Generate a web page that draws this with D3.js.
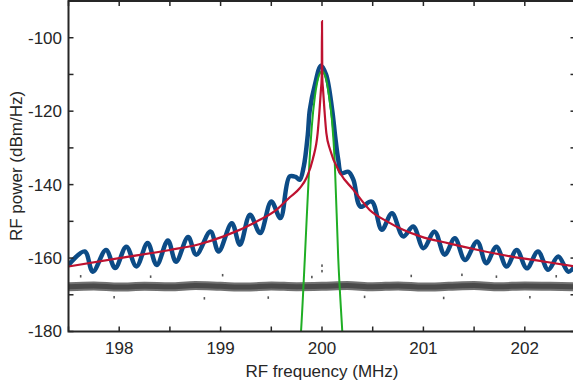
<!DOCTYPE html>
<html><head><meta charset="utf-8">
<script src="https://cdn.jsdelivr.net/npm/d3@7"></script>
<style>
body{margin:0;background:#fff;}
text{font-family:"Liberation Sans",Arial,Helvetica,sans-serif;fill:#262626;}
</style></head>
<body><svg id="c" width="573" height="386"></svg>
<script>
// ---- data ----
const xTicks = [197.5,198,198.5,199,199.5,200,200.5,201,201.5,202,202.5];
const xTickLabels = [198,199,200,201,202];
const yTicks = [-180,-170,-160,-150,-140,-130,-120,-110,-100,-90];
const yTickLabels = [-180,-160,-140,-120,-100];

const blueFreq  = [197.50,197.66,197.74,197.87,197.96,198.07,198.17,198.28,198.37,198.48,198.56,198.68,198.76,198.90,198.98,199.11,199.19,199.29,199.39,199.50,199.59,199.68,199.74,199.78,199.82,199.86,199.88,199.93,199.99,200.04,200.10,200.13,200.16,200.19,200.26,200.31,200.38,200.49,200.59,200.69,200.80,200.90,201.00,201.11,201.21,201.31,201.41,201.53,201.62,201.72,201.82,201.92,202.02,202.13,202.23,202.33,202.43,202.50];
const bluePower = [-161.9,-158.2,-163.7,-157.8,-162.7,-156.9,-162.3,-155.9,-161.9,-155.2,-161.0,-154.3,-159.1,-152.8,-158.2,-150.5,-156.4,-148.2,-153.2,-144.6,-149.1,-137.8,-137.9,-138.7,-135.1,-126.4,-119.6,-112.8,-107.6,-110.0,-119.6,-126.9,-133.2,-136.9,-136.5,-138.7,-146.0,-144.6,-152.3,-147.8,-154.1,-151.4,-157.3,-152.8,-159.1,-154.6,-160.5,-155.5,-161.4,-156.9,-162.3,-157.8,-162.8,-158.2,-163.2,-159.6,-163.7,-161.9];

const redFreq  = [197.5,198.0,198.5,198.78,199.03,199.36,199.55,199.68,199.78,199.85,199.91,199.957,199.975,199.99,199.997,200.0,200.003,200.01,200.025,200.043,200.08,200.18,200.31,200.47,200.64,200.80,200.97,201.25,201.54,201.87,202.2,202.5];
const redPower = [-162.3,-160.0,-157.8,-156.3,-154.1,-150.0,-146.9,-143.5,-141.0,-138.0,-133.0,-126.0,-120.0,-114.0,-111.0,-95.5,-111.0,-114.0,-120.0,-126.0,-130.5,-136.9,-141.4,-146.9,-150.0,-152.3,-154.1,-156.0,-157.8,-159.6,-161.0,-162.3];

const greenFreq  = [199.78,199.793,199.83,199.876,199.90,199.93,199.95,199.97,200.0,200.03,200.05,200.07,200.10,200.126,200.16,200.20,200.21];
const greenPower = [-185,-180,-160.5,-134,-124,-116,-112.5,-110.3,-109.1,-110.3,-112.5,-116,-123,-134,-160,-180,-185];

const grayFreq  = [197.5,197.75,198.0,198.25,198.5,198.75,199.0,199.25,199.5,199.75,200.0,200.25,200.5,200.75,201.0,201.25,201.5,201.75,202.0,202.25,202.5];
const grayPower = [-167.8,-167.6,-167.9,-167.7,-167.8,-167.5,-167.7,-167.9,-167.6,-167.8,-167.7,-167.5,-167.8,-167.6,-167.9,-167.7,-167.5,-167.8,-167.6,-167.7,-167.8];
const grayOutFreq  = [197.62,197.95,198.31,198.84,199.02,199.47,199.9,200.0,200.0,200.42,200.88,201.2,201.38,201.72,202.05,202.31];
const grayOutPower = [-164.9,-170.6,-165.0,-170.9,-164.6,-170.7,-165.1,-162.0,-163.5,-170.5,-164.8,-170.8,-164.5,-165.0,-170.6,-164.9];

// ---- drawing ----
const svg = d3.select("#c");
const x = d3.scaleLinear().domain([197.5,202.5]).range([68.5,575.5]);
const y = d3.scaleLinear().domain([-180,-90]).range([331.5,1]);

svg.append("defs").append("clipPath").attr("id","clip")
  .append("rect").attr("x",68.5).attr("y",1).attr("width",507).attr("height",330.5);

const g = svg.append("g").attr("clip-path","url(#clip)");
const zip = (a,b)=>a.map((v,i)=>[v,b[i]]);
const mk = c => d3.line().x(d=>x(d[0])).y(d=>y(d[1])).curve(c);

g.append("path").datum(zip(grayFreq,grayPower))
  .attr("d",mk(d3.curveMonotoneX)).attr("fill","none")
  .attr("stroke","#595959").attr("stroke-width",9).attr("stroke-opacity",0.85);
g.append("path").datum(zip(grayFreq,grayPower))
  .attr("d",mk(d3.curveMonotoneX)).attr("fill","none")
  .attr("stroke","#4a4a4a").attr("stroke-width",5);
g.selectAll("rect.go").data(zip(grayOutFreq,grayOutPower)).enter().append("rect")
  .attr("x",d=>x(d[0])-0.8).attr("y",d=>y(d[1])-1).attr("width",1.6).attr("height",2.5)
  .attr("fill","#555555");

g.append("path").datum(zip(blueFreq,bluePower))
  .attr("d",mk(d3.curveCatmullRom.alpha(0.5)))
  .attr("fill","none").attr("stroke","#0c4b86").attr("stroke-width",4.5)
  .attr("stroke-linejoin","round");

g.append("path").datum(zip(greenFreq,greenPower))
  .attr("d",mk(d3.curveMonotoneX))
  .attr("fill","none").attr("stroke","#1fae24").attr("stroke-width",2);

g.append("path").datum(zip(redFreq,redPower))
  .attr("d",mk(d3.curveMonotoneX))
  .attr("fill","none").attr("stroke","#be1230").attr("stroke-width",2.2);

// axes frame
const axCol = "#262626";
const ax = svg.append("g");
ax.append("rect").attr("x",68.5).attr("y",1).attr("width",507).attr("height",330.5)
  .attr("fill","none").attr("stroke",axCol).attr("stroke-width",2);

const tl = 5;
xTicks.forEach(t=>{
  ax.append("line").attr("x1",x(t)).attr("x2",x(t)).attr("y1",y(-180)).attr("y2",y(-180)-tl)
    .attr("stroke",axCol).attr("stroke-width",1.5);
  ax.append("line").attr("x1",x(t)).attr("x2",x(t)).attr("y1",y(-90)).attr("y2",y(-90)+tl)
    .attr("stroke",axCol).attr("stroke-width",1.5);
});
yTicks.forEach(t=>{
  ax.append("line").attr("x1",x(197.5)).attr("x2",x(197.5)+tl).attr("y1",y(t)).attr("y2",y(t))
    .attr("stroke",axCol).attr("stroke-width",1.5);
  ax.append("line").attr("x1",x(202.5)).attr("x2",x(202.5)-tl).attr("y1",y(t)).attr("y2",y(t))
    .attr("stroke",axCol).attr("stroke-width",1.5);
});
xTickLabels.forEach(t=>{
  svg.append("text").attr("x",x(t)).attr("y",y(-180)+22.5).attr("text-anchor","middle")
    .attr("font-size",17).text(t);
});
yTickLabels.forEach(t=>{
  svg.append("text").attr("x",62).attr("y",y(t)).attr("dy","0.35em").attr("text-anchor","end")
    .attr("font-size",17).text(t);
});
svg.append("text").attr("x",322).attr("y",377).attr("text-anchor","middle")
  .attr("font-size",17).text("RF frequency (MHz)");
svg.append("text").attr("transform","translate(21.5,166) rotate(-90)").attr("text-anchor","middle")
  .attr("font-size",17).text("RF power (dBm/Hz)");
</script></body></html>
